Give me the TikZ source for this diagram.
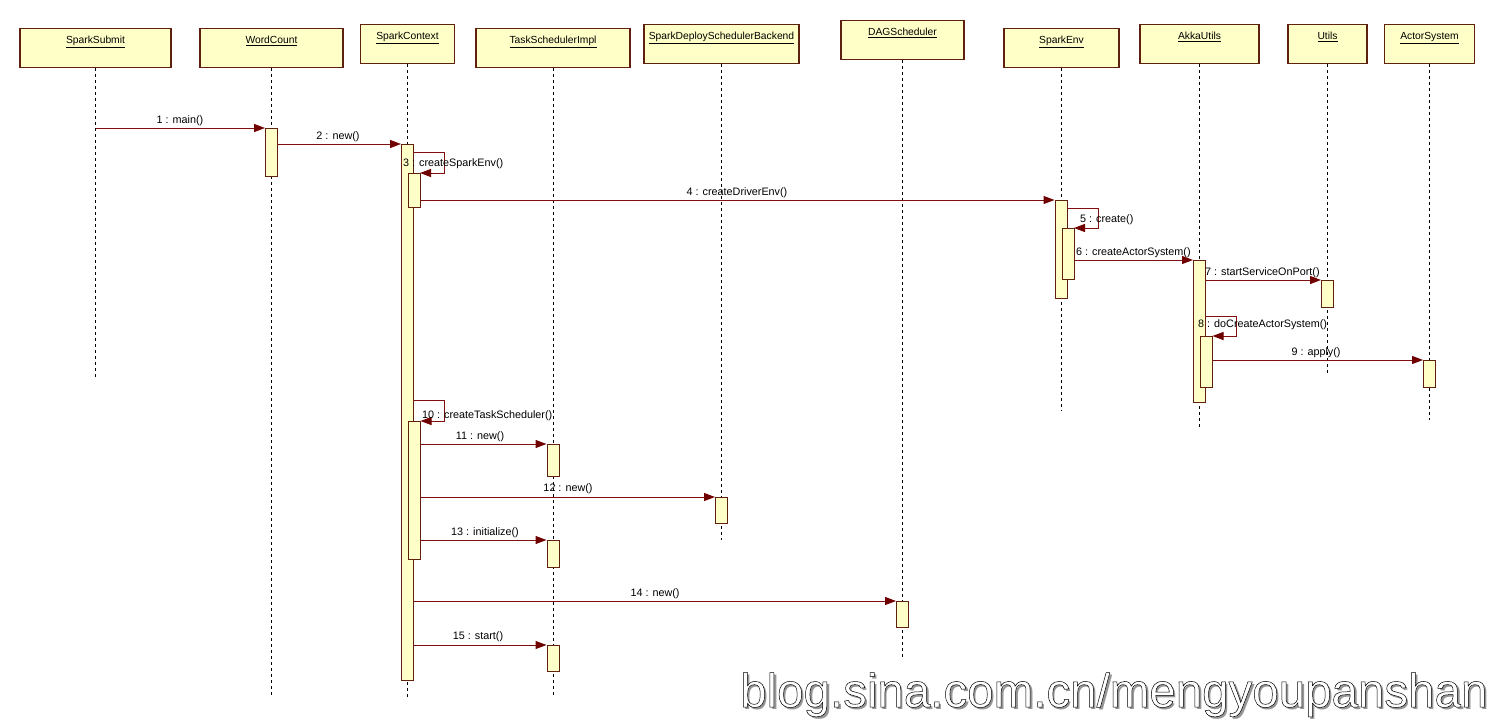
\documentclass[tikz,border=0pt]{standalone}
\usepackage{fontspec}
\setmainfont{Liberation Sans}
\usetikzlibrary{arrows.meta}
\definecolor{boxfill}{RGB}{255,255,200}
\definecolor{boxline}{RGB}{96,32,16}
\definecolor{msg}{RGB}{128,16,16}
\definecolor{tip}{RGB}{112,0,0}
\definecolor{shadowgray}{RGB}{150,150,150}
\newcommand\outlinedtext[1]{\special{pdf:literal direct 0 0 0 RG 0.5 w 2 Tr}#1\special{pdf:literal direct 0 Tr}}
\begin{document}
\begin{tikzpicture}[x=1pt,y=-1pt,font=\fontsize{10.8}{12}\selectfont,
  hdr/.style={draw=boxline,fill=boxfill,line width=1.2pt,anchor=north,inner xsep=2pt,inner ysep=4pt,text height=11pt,text depth=20pt,font=\fontsize{10.3}{12}\selectfont},
  act/.style={draw=boxline,fill=boxfill,line width=1pt,anchor=north,minimum width=12pt,inner sep=0pt},
  life/.style={dash pattern=on 3pt off 3pt,line width=0.9pt,black},
  msgline/.style={draw=msg,line width=1pt,-{Triangle[length=11pt,width=8pt,fill=tip,color=tip]}},
  lbl/.style={inner sep=0pt,anchor=base},
  lblw/.style={inner sep=0pt,anchor=base west}]
\useasboundingbox[fill=white] (0,0) rectangle (1495,720);

% headers
\node[hdr,minimum width=151pt] (hSS) at (95.5,28) {\underline{SparkSubmit}};
\node[hdr,minimum width=143pt] (hWC) at (271.5,28) {\underline{WordCount}};
\node[hdr,minimum width=94pt] (hSC) at (407.5,24) {\underline{SparkContext}};
\node[hdr,minimum width=154pt] (hTS) at (553,28) {\underline{TaskSchedulerImpl}};
\node[hdr,minimum width=155pt] (hSD) at (721.5,24) {\underline{SparkDeploySchedulerBackend}};
\node[hdr,minimum width=123pt] (hDAG) at (902.5,20) {\underline{DAGScheduler}};
\node[hdr,minimum width=115pt] (hSE) at (1061.5,28) {\underline{SparkEnv}};
\node[hdr,minimum width=119pt] (hAU) at (1199.5,24) {\underline{AkkaUtils}};
\node[hdr,minimum width=79pt] (hUT) at (1327.5,24) {\underline{Utils}};
\node[hdr,minimum width=90pt] (hAS) at (1429.5,24) {\underline{ActorSystem}};

% lifeline ends
\coordinate (eSS) at (95.5,378);
\coordinate (eWC) at (271.5,698);
\coordinate (eSC) at (407.5,698);
\coordinate (eTS) at (553,696);
\coordinate (eSD) at (721.5,540);
\coordinate (eDAG) at (902.5,658);
\coordinate (eSE) at (1061.5,411);
\coordinate (eAU) at (1199.5,430);
\coordinate (eUT) at (1327.5,374);
\coordinate (eAS) at (1429.5,420);
\foreach \h/\e in {hSS/eSS,hWC/eWC,hSC/eSC,hTS/eTS,hSD/eSD,hDAG/eDAG,hSE/eSE,hAU/eAU,hUT/eUT,hAS/eAS}
  \draw[life] (\h) -- (\e);

% activations
\node[act,minimum height=48pt] (aWC) at (271.5,128) {};
\node[act,minimum height=536pt] (aSC) at (407.5,144) {};
\node[act,minimum height=98pt] (aSE) at (1061,200) {};
\node[act,minimum height=142pt] (aAU) at (1199.5,260) {};
\node[act,minimum height=27pt] (aUT) at (1327.5,280) {};
\node[act,minimum height=27pt] (aAS) at (1429.5,360) {};
\node[act,minimum height=32pt] (aTS11) at (553,444) {};
\node[act,minimum height=26pt] (aSD12) at (721.5,497) {};
\node[act,minimum height=27pt] (aTS13) at (553,540) {};
\node[act,minimum height=26pt] (aDAG14) at (902.5,601) {};
\node[act,minimum height=26pt] (aTS15) at (553,645) {};

% self-call start points
\coordinate (s3) at (413.5,152);
\coordinate (s5) at (1067,208);
\coordinate (s8) at (1205.5,316);
\coordinate (s10) at (413.5,400);

% self calls (loops) drawn before nested activations
\draw[msgline] (s3) -- ++(31,0) |- (414+6,173);
\draw[msgline] (s5) -- ++(31,0) |- (1068+6,228);
\draw[msgline] (s8) -- ++(31,0) |- (1206.5+6,336);
\draw[msgline] (s10) -- ++(31,0) |- (414.5+6,421);

% nested activations
\node[act,minimum height=34pt] (aSC3) at (414,173) {};
\node[act,minimum height=51pt] (aSE5) at (1068,228) {};
\node[act,minimum height=51pt] (aAU8) at (1206.5,336) {};
\node[act,minimum height=138pt] (aSC10) at (414.5,421) {};

% messages
\coordinate (m1) at (95.5,128);
\draw[msgline] (m1) -- (aWC.north west);
\draw[msgline] (aWC.east |- aSC.north) -- (aSC.north west);
\draw[msgline] (aSC3.east |- aSE.north) -- (aSE.north west);
\draw[msgline] (aSE5.east |- aAU.north) -- (aAU.north west);
\draw[msgline] (aAU.east |- aUT.north) -- (aUT.north west);
\draw[msgline] (aAU8.east |- aAS.north) -- (aAS.north west);
\draw[msgline] (aSC10.east |- aTS11.north) -- (aTS11.north west);
\draw[msgline] (aSC10.east |- aSD12.north) -- (aSD12.north west);
\draw[msgline] (aSC10.east |- aTS13.north) -- (aTS13.north west);
\draw[msgline] (aSC.east |- aDAG14.north) -- (aDAG14.north west);
\draw[msgline] (aSC.east |- aTS15.north) -- (aTS15.north west);

% labels
\node[lbl] (l1) at (180,123) {1 : main()};
\node[lbl] (l2) at (338,139) {2 : new()};
\node[lblw] (l3) at (403,166) {3 : createSparkEnv()};
\node[lbl] (l4) at (737,195) {4 : createDriverEnv()};
\node[lblw] (l5) at (1080,222) {5 : create()};
\node[lblw] (l6) at (1076,255) {6 : createActorSystem()};
\node[lblw] (l7) at (1205,275) {7 : startServiceOnPort()};
\node[lblw] (l8) at (1198,327) {8 : doCreateActorSystem()};
\node[lbl] (l9) at (1316,355) {9 : apply()};
\node[lblw] (l10) at (422,418) {10 : createTaskScheduler()};
\node[lbl] (l11) at (480,439) {11 : new()};
\node[lbl] (l12) at (568,491) {12 : new()};
\node[lbl] (l13) at (485,535) {13 : initialize()};
\node[lbl] (l14) at (655,596) {14 : new()};
\node[lbl] (l15) at (478,639) {15 : start()};

% watermark
\node[anchor=base west,inner sep=0pt,text=shadowgray,font=\fontsize{47.5}{50}\selectfont] (wmshadow) at (742.5,709) {blog.sina.com.cn/mengyoupanshan};
\node[anchor=base west,inner sep=0pt,text=white,font=\fontsize{47.5}{50}\selectfont] (wm) at (740,707) {\outlinedtext{blog.sina.com.cn/mengyoupanshan}};
\end{tikzpicture}
\end{document}
